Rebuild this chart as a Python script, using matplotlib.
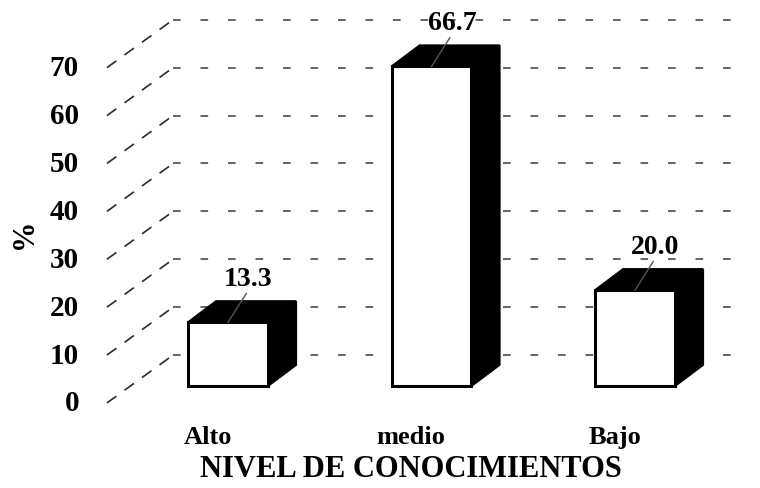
import matplotlib
matplotlib.use("Agg")
import matplotlib.pyplot as plt
from matplotlib.patches import Polygon, Rectangle

# Data
categories = ["Alto", "medio", "Bajo"]
values = [13.3, 66.7, 20.0]
yticks = [0, 10, 20, 30, 40, 50, 60, 70]
xlabel = "NIVEL DE CONOCIMIENTOS"
ylabel = "%"

plt.rcParams["font.family"] = ["Liberation Serif", "DejaVu Serif"]
plt.rcParams["font.weight"] = "bold"

fig = plt.figure(figsize=(7.6, 4.89), dpi=100)
ax = fig.add_axes([0, 0, 1, 1])
ax.set_xlim(-1.1204, 2.6143)
ax.set_ylim(-17.75, 84.34)
ax.axis("off")

# pseudo-3D geometry (category units / percent units)
wall_dx, wall_dy = 0.325, 10.0       # depth of floor / walls
bar_w = 0.393                        # front face width
bar_dx, bar_dy = 0.138, 4.4          # bar depth
bar_base = 3.55                      # bars sit back from the front edge
left_x = -0.595                      # front-left corner of the floor
right_x = 2.565                      # right end of the back wall

grid_kw = dict(color="#3a3a3a", lw=1.1, linestyle=(0, (5, 13)), zorder=1)
diag_kw = dict(color="#2a2a2a", lw=1.2, linestyle=(0, (7, 6)), zorder=1)

for t in yticks:
    # left wall diagonals and back-wall gridlines
    ax.plot([left_x, left_x + wall_dx], [t, t + wall_dy], **diag_kw)
    ax.plot([left_x + wall_dx, right_x], [t + wall_dy, t + wall_dy], **grid_kw)
    ax.text(-0.732, t, str(t), ha="right", va="center",
            fontsize=21, fontweight="bold")

for i, (cat, v) in enumerate(zip(categories, values)):
    x0 = i - bar_w / 2
    x1 = i + bar_w / 2
    y0 = bar_base
    y1 = bar_base + v
    # side face
    ax.add_patch(Polygon([(x1, y0), (x1 + bar_dx, y0 + bar_dy),
                          (x1 + bar_dx, y1 + bar_dy), (x1, y1)],
                         closed=True, facecolor="black", edgecolor="black",
                         lw=1.5, zorder=3))
    # top face
    ax.add_patch(Polygon([(x0, y1), (x0 + bar_dx, y1 + bar_dy),
                          (x1 + bar_dx, y1 + bar_dy), (x1, y1)],
                         closed=True, facecolor="black", edgecolor="black",
                         lw=1.5, zorder=3))
    # front face
    ax.add_patch(Rectangle((x0, y0), bar_w, v, facecolor="white",
                           edgecolor="black", lw=2.2, zorder=4))
    # value label with leader line
    ax.plot([i, i + 0.09], [y1, y1 + 6.0], color="#555555", lw=1, zorder=5)
    ax.text(i + 0.1, y1 + 9.2, f"{v:.1f}", ha="center", va="center",
            fontsize=20, fontweight="bold", zorder=6)
    # category label
    ax.text(i - 0.1, -7, cat, ha="center", va="center",
            fontsize=19, fontweight="bold")

ax.text(0.9, -13.6, xlabel, ha="center", va="center",
        fontsize=22, fontweight="bold")
ax.text(-1.0, 35.5, ylabel, ha="center", va="center", rotation=90,
        fontsize=22, fontweight="bold")

fig.savefig("out.png", dpi=100)
